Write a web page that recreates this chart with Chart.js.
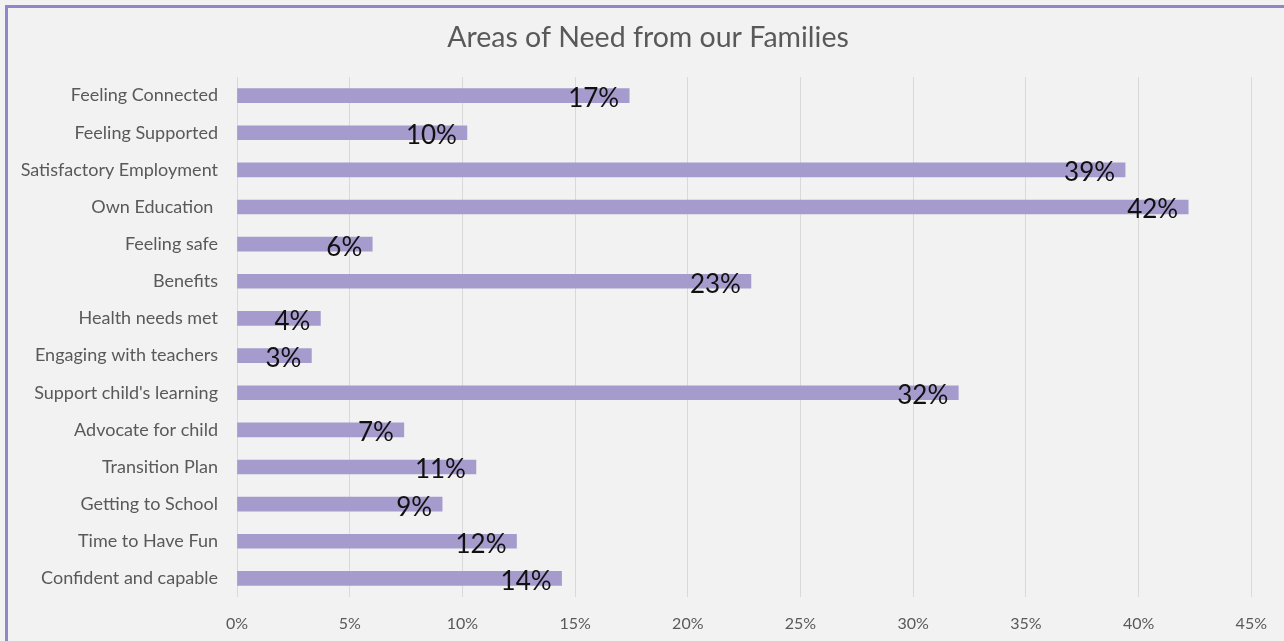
<!DOCTYPE html>
<html>
<head>
<meta charset="utf-8">
<script src="https://cdn.jsdelivr.net/npm/chart.js@4/dist/chart.umd.min.js"></script>
<style>
    html, body { margin: 0; padding: 0; background: #f2f2f2; overflow: hidden; }
    #wrap { position: relative; width: 1284px; height: 641px; }
    #frame {
        position: absolute; left: 5px; top: 5px; width: 1400px; height: 700px;
        border-left: 3px solid #8f87c7; border-top: 3px solid #8f87c7;
        box-sizing: border-box; pointer-events: none;
    }
    canvas { position: absolute; left: 0; top: 0; }
</style>
</head>
<body>
<div id="wrap">
    <div id="frame"></div>
    <canvas id="needChart" width="1284" height="641"></canvas>
</div>
<script>
// Areas of need - percentages
const chartTitle = 'Areas of Need from our Families';
const categories = [
    'Feeling Connected',
    'Feeling Supported',
    'Satisfactory Employment',
    'Own Education ',
    'Feeling safe',
    'Benefits',
    'Health needs met',
    'Engaging with teachers',
    "Support child's learning",
    'Advocate for child',
    'Transition Plan',
    'Getting to School',
    'Time to Have Fun',
    'Confident and capable'
];
const percentValues = [17.4, 10.2, 39.4, 42.2, 6.0, 22.8, 3.7, 3.3, 32.0, 7.4, 10.6, 9.1, 12.4, 14.4];
const valueLabels = ['17%', '10%', '39%', '42%', '6%', '23%', '4%', '3%', '32%', '7%', '11%', '9%', '12%', '14%'];
const xTicks = [0, 5, 10, 15, 20, 25, 30, 35, 40, 45];

const FONT = 'Lato, "Open Sans", sans-serif';

// title centred on the whole framed box (not just the plot area),
// plus the value labels inside the end of each bar
const barLabels = {
    id: 'barLabels',
    afterDatasetsDraw(chart) {
        const ctx = chart.ctx;
        const meta = chart.getDatasetMeta(0);
        ctx.save();
        ctx.font = '28.5px ' + FONT;
        ctx.fillStyle = '#595959';
        ctx.textAlign = 'center';
        ctx.textBaseline = 'middle';
        ctx.fillText(chartTitle, chart.width / 2 + 6, 38);

        ctx.font = '26px ' + FONT;
        ctx.fillStyle = '#111111';
        ctx.textAlign = 'right';
        meta.data.forEach((bar, i) => {
            ctx.fillText(valueLabels[i], bar.x - 10, bar.y + 3);
        });
        ctx.restore();
    }
};

const ctx = document.getElementById('needChart').getContext('2d');
const needChart = new Chart(ctx, {
    type: 'bar',
    data: {
        labels: categories,
        datasets: [{
            data: percentValues,
            backgroundColor: '#a59bcd',
            borderWidth: 0,
            barThickness: 14
        }]
    },
    options: {
        indexAxis: 'y',
        responsive: false,
        animation: false,
        layout: { padding: { top: 77, right: 32, bottom: 0, left: 0 } },
        scales: {
            x: {
                min: 0,
                max: 45,
                afterBuildTicks(scale) {
                    scale.ticks = xTicks.map(v => ({ value: v }));
                },
                afterFit(scale) { scale.height = 44; },
                grid: { color: '#d9d9d9', drawTicks: false },
                border: { display: false },
                ticks: {
                    padding: 17,
                    color: '#595959',
                    font: { family: FONT, size: 16 },
                    callback: v => v + '%'
                }
            },
            y: {
                afterFit(scale) { scale.width = 237; },
                grid: { display: false, drawTicks: false },
                border: { display: false },
                ticks: {
                    padding: 19,
                    color: '#595959',
                    font: { family: FONT, size: 18 }
                }
            }
        },
        plugins: {
            legend: { display: false },
            tooltip: { enabled: false },
            title: { display: false }
        }
    },
    plugins: [barLabels]
});
</script>
</body>
</html>
